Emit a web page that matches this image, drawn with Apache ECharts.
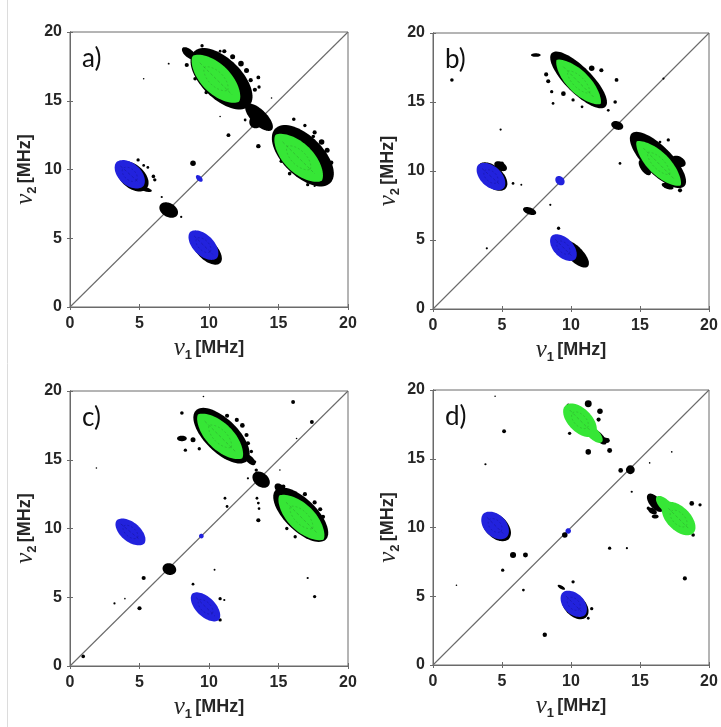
<!DOCTYPE html>
<html>
<head>
<meta charset="utf-8">
<script src="https://cdn.jsdelivr.net/npm/echarts@6/dist/echarts.min.js"></script>
<style>
  html, body { margin: 0; padding: 0; background: #ffffff; }
  #chart { width: 721px; height: 727px; }
</style>
</head>
<body>
<div id="chart"></div>
<script>
// Axis ticks shared by every panel (MHz)
const ticks = [0, 5, 10, 15, 20];
const panelLabels = ['a)', 'b)', 'c)', 'd)'];
const diagonal = [[0, 0], [20, 20]];

// Peak contours: [nu1, nu2, half-length, half-width, tilt in degrees]
// Spots: [nu1, nu2, radius]

// ---- panel a ----
const haloA = [
  [10.9, 16.6, 2.8, 1.45, -45], [8.55, 18.45, 0.6, 0.3, -40],
  [13.6, 13.8, 1.3, 0.55, -45], [13.45, 13.55, 0.6, 0.5, 45],
  [16.75, 11.0, 2.8, 1.45, -45], [18.0, 9.5, 0.5, 0.3, -45],
  [4.5, 9.5, 1.35, 0.85, -42], [5.45, 8.55, 0.45, 0.15, -15],
  [9.85, 4.15, 1.35, 0.7, -45], [7.1, 7.05, 0.72, 0.5, -30]
];
const greenA = [[10.5, 16.6, 2.35, 1.05, -45], [16.45, 10.85, 2.35, 1.05, -45]];
const blueA = [[4.3, 9.65, 1.3, 0.8, -42], [9.6, 4.5, 1.35, 0.75, -45], [9.3, 9.35, 0.3, 0.18, -45]];
const spotsA = [
  [8.85, 10.45, 0.2], [4.9, 10.7, 0.12], [5.3, 10.3, 0.1], [5.6, 10.15, 0.1], [6.0, 9.5, 0.13],
  [6.1, 9.25, 0.12], [6.6, 8.0, 0.08], [8.0, 6.55, 0.08], [11.4, 12.5, 0.14], [13.55, 11.7, 0.16],
  [13.55, 16.7, 0.14], [13.6, 16.0, 0.12], [10.8, 18.6, 0.1], [7.1, 17.7, 0.07], [16.1, 13.65, 0.13],
  [17.5, 12.4, 0.13], [12.6, 13.6, 0.1], [10.8, 13.85, 0.05], [14.5, 15.2, 0.05], [17.6, 8.8, 0.08],
  [5.3, 16.6, 0.05],
  [12.3, 17.7, 0.2], [12.7, 17.2, 0.18], [11.7, 18.2, 0.18], [13.0, 16.5, 0.15], [13.3, 15.8, 0.15],
  [11.1, 18.6, 0.15], [9.5, 19.0, 0.12], [8.4, 17.6, 0.15], [9.0, 16.6, 0.13], [9.8, 15.6, 0.13],
  [18.1, 12.0, 0.2], [18.5, 11.4, 0.18], [17.6, 12.7, 0.15], [18.8, 10.5, 0.15], [16.9, 13.2, 0.12],
  [15.2, 10.6, 0.13], [15.8, 9.7, 0.13], [17.1, 8.9, 0.12], [18.4, 9.2, 0.12]
];

// ---- panel b ----
const haloB = [
  [10.55, 16.6, 2.75, 0.95, -45], [7.45, 18.4, 0.35, 0.13, 0], [13.35, 13.3, 0.45, 0.3, -20],
  [16.3, 10.8, 2.7, 1.0, -45], [15.35, 10.25, 0.65, 0.3, -55], [17.8, 10.7, 0.55, 0.35, -30],
  [17.0, 8.9, 0.45, 0.2, -20], [4.3, 9.6, 1.3, 0.75, -42], [4.9, 10.35, 0.5, 0.3, -30],
  [10.3, 4.0, 1.3, 0.55, -45], [10.8, 3.6, 0.5, 0.25, -30], [7.0, 7.1, 0.5, 0.25, -20]
];
const greenB = [[10.55, 16.45, 2.25, 0.8, -45], [16.35, 10.55, 2.25, 0.8, -45]];
const blueB = [[4.2, 9.6, 1.25, 0.75, -42], [9.45, 4.45, 1.2, 0.7, -45], [9.2, 9.3, 0.38, 0.3, -45]];
const spotsB = [
  [8.2, 17.0, 0.15], [8.35, 16.5, 0.15], [8.6, 15.75, 0.12], [8.7, 14.9, 0.1], [9.45, 15.6, 0.17],
  [10.15, 15.15, 0.12], [10.8, 14.65, 0.1], [11.5, 17.45, 0.2], [12.2, 17.3, 0.15], [13.3, 16.6, 0.14],
  [13.2, 15.0, 0.13], [12.7, 14.4, 0.1], [16.7, 16.7, 0.08], [17.05, 12.25, 0.12], [16.45, 12.1, 0.1],
  [13.55, 10.55, 0.1], [5.0, 10.55, 0.14], [5.8, 9.1, 0.1], [6.4, 9.0, 0.07], [4.9, 13.0, 0.08],
  [3.9, 4.4, 0.08], [1.37, 16.6, 0.13], [8.5, 7.55, 0.08], [9.1, 5.85, 0.12], [17.9, 8.6, 0.15]
];

// ---- panel c ----
const haloC = [
  [10.9, 16.75, 2.6, 1.2, -45], [12.95, 15.0, 0.5, 0.25, -45], [13.75, 13.55, 0.7, 0.5, -40],
  [16.6, 11.0, 2.55, 1.15, -45], [15.1, 12.9, 0.45, 0.3, -45], [8.05, 16.55, 0.35, 0.2, 0],
  [7.15, 7.05, 0.5, 0.42, -20]
];
const greenC = [[10.8, 16.7, 2.25, 0.95, -45], [16.65, 10.8, 2.25, 0.95, -45]];
const blueC = [[4.35, 9.75, 1.3, 0.7, -40], [9.75, 4.3, 1.35, 0.7, -45], [9.45, 9.45, 0.17, 0.17, 0]];
const spotsC = [
  [8.05, 18.4, 0.13], [8.85, 16.45, 0.18], [8.3, 15.7, 0.12], [12.8, 16.2, 0.15], [13.05, 15.6, 0.12],
  [13.3, 14.85, 0.1], [13.4, 14.25, 0.12], [12.8, 13.65, 0.08], [13.45, 12.2, 0.1], [13.55, 11.85, 0.1],
  [13.6, 11.45, 0.1], [13.55, 10.6, 0.15], [11.15, 12.2, 0.1], [11.3, 11.6, 0.1], [15.35, 13.05, 0.15],
  [18.2, 10.85, 0.15], [18.1, 10.25, 0.12], [16.05, 19.2, 0.14], [17.4, 17.75, 0.14], [16.3, 16.55, 0.05],
  [9.6, 19.6, 0.05], [5.3, 6.4, 0.15], [5.0, 4.2, 0.15], [3.2, 4.55, 0.08], [3.95, 4.9, 0.05],
  [8.85, 5.95, 0.1], [10.8, 4.9, 0.12], [11.1, 4.8, 0.08], [10.4, 7.0, 0.07], [17.6, 5.05, 0.12],
  [17.1, 6.4, 0.08], [0.95, 0.7, 0.13], [1.9, 14.4, 0.05], [10.8, 3.35, 0.12], [15.1, 14.25, 0.05],
  [12.0, 17.9, 0.15], [12.4, 17.5, 0.17], [11.3, 18.2, 0.15], [12.7, 16.8, 0.15], [9.3, 15.8, 0.12],
  [17.6, 11.9, 0.15], [18.0, 11.4, 0.15], [16.9, 12.5, 0.15], [15.6, 10.0, 0.12], [16.2, 9.4, 0.12]
];

// ---- panel d ----
const haloD = [
  [12.0, 16.6, 0.75, 0.3, -45], [12.5, 16.35, 0.3, 0.18, -20], [16.1, 11.8, 0.8, 0.4, -50],
  [15.9, 11.2, 0.35, 0.2, -30], [16.1, 10.8, 0.25, 0.15, 0], [4.6, 10.05, 1.25, 0.8, -45],
  [5.2, 9.35, 0.35, 0.2, -30], [10.3, 4.3, 1.15, 0.75, -45], [9.3, 5.65, 0.3, 0.12, -30]
];
const greenD = [
  [10.65, 17.8, 1.5, 0.85, -45], [11.6, 16.85, 0.9, 0.4, -45],
  [17.8, 10.65, 1.5, 0.85, -45], [16.85, 11.6, 0.9, 0.4, -45]
];
const blueD = [[4.5, 10.15, 1.2, 0.8, -45], [10.2, 4.45, 1.15, 0.75, -45], [9.8, 9.75, 0.2, 0.2, 0]];
const spotsD = [
  [11.25, 19.0, 0.25], [12.1, 18.45, 0.2], [12.0, 17.85, 0.15], [9.8, 18.9, 0.12], [9.9, 16.85, 0.12],
  [11.25, 15.5, 0.2], [12.8, 15.6, 0.18], [12.65, 16.35, 0.15], [14.3, 14.2, 0.32], [13.6, 14.15, 0.17],
  [14.4, 12.6, 0.08], [15.7, 14.7, 0.05], [17.3, 15.5, 0.06], [18.75, 11.75, 0.17], [19.35, 11.65, 0.12],
  [18.85, 9.45, 0.13], [18.25, 6.3, 0.15], [15.6, 11.4, 0.12], [12.8, 8.5, 0.12], [14.05, 8.5, 0.08],
  [9.55, 9.45, 0.2], [5.8, 8.0, 0.22], [6.7, 8.0, 0.18], [5.05, 6.9, 0.12], [6.55, 5.45, 0.1],
  [3.8, 14.6, 0.08], [5.15, 17.0, 0.14], [1.7, 5.8, 0.05], [4.5, 19.55, 0.05], [10.15, 6.05, 0.12],
  [11.5, 4.1, 0.12], [11.25, 3.4, 0.1], [8.1, 2.2, 0.16]
];

const panels = [
  { halo: haloA, green: greenA, blue: blueA, spots: spotsA },
  { halo: haloB, green: greenB, blue: blueB, spots: spotsB },
  { halo: haloC, green: greenC, blue: blueC, spots: spotsC },
  { halo: haloD, green: greenD, blue: blueD, spots: spotsD }
];

// plot boxes of the 2x2 layout, and how sharply each panel's green lobes taper
const boxes = [
  { left: 70, top: 32, width: 278, height: 275 },
  { left: 433, top: 33, width: 276, height: 276 },
  { left: 70, top: 391, width: 278, height: 275 },
  { left: 433, top: 390, width: 276, height: 275 }
];
const greenTaper = [1.3, 1.4, 1.35, 1.0];

const FRAME = '#6a6a6a';
const INK = '#262626';
const SANS = 'Liberation Sans, Arial, sans-serif';
const LABEL = { fontFamily: SANS, fontWeight: 'bold', fontSize: 16, color: INK };
const GREEN = '#36e636';
const BLUE = '#2222dd';

// outline of a tilted peak in data space, projected through the axes
function outline(api, v, scale, taper, steps) {
  const a = v[2] * scale, b = v[3] * scale, th = v[4] * Math.PI / 180;
  const c = Math.cos(th), s = Math.sin(th), pts = [];
  for (let i = 0; i < steps; i++) {
    const t = 2 * Math.PI * i / steps, st = Math.sin(t);
    const u = a * Math.cos(t);
    const w = b * Math.sign(st) * Math.pow(Math.abs(st), taper);
    pts.push(api.coord([v[0] + u * c - w * s, v[1] + u * s + w * c]));
  }
  return pts;
}
const vals = api => [api.value(0), api.value(1), api.value(2), api.value(3), api.value(4)];

function peakSeries(i, data, fill, taper, z) {
  return {
    type: 'custom', xAxisIndex: i, yAxisIndex: i, data, z, clip: true, silent: true,
    encode: { x: 0, y: 1 },
    renderItem: (p, api) => ({
      type: 'polygon',
      shape: { points: outline(api, vals(api), 1, taper, 72) },
      style: { fill }
    })
  };
}

// faint inner contour lines drawn on top of the coloured peaks
function innerSeries(i, data, stroke, taper, z) {
  return {
    type: 'custom', xAxisIndex: i, yAxisIndex: i, data, z, clip: true, silent: true,
    encode: { x: 0, y: 1 },
    renderItem: (p, api) => {
      const v = vals(api);
      if (v[2] < 1.0) return null;
      const th = v[4] * Math.PI / 180, L = v[2] * 0.7;
      const p1 = api.coord([v[0] - L * Math.cos(th), v[1] - L * Math.sin(th)]);
      const p2 = api.coord([v[0] + L * Math.cos(th), v[1] + L * Math.sin(th)]);
      return {
        type: 'group',
        children: [
          { type: 'polygon', shape: { points: outline(api, v, 0.5, taper, 48) },
            style: { fill: 'none', stroke, lineWidth: 0.6, lineDash: [2, 2] } },
          { type: 'line', shape: { x1: p1[0], y1: p1[1], x2: p2[0], y2: p2[1] },
            style: { stroke, lineWidth: 0.7, lineDash: [3, 2] } }
        ]
      };
    }
  };
}

function spotSeries(i, data, z) {
  return {
    type: 'custom', xAxisIndex: i, yAxisIndex: i, data, z, clip: true, silent: true,
    encode: { x: 0, y: 1 },
    renderItem: (p, api) => {
      const c = api.coord([api.value(0), api.value(1)]);
      const r = api.size([api.value(2), 0])[0];
      return { type: 'circle', shape: { cx: c[0], cy: c[1], r: Math.max(r, 0.8) }, style: { fill: '#000' } };
    }
  };
}

const nameRich = {
  nu: { fontFamily: 'Liberation Serif, serif', fontStyle: 'italic', fontSize: 25, color: INK, verticalAlign: 'middle', lineHeight: 28 },
  sub: { fontFamily: SANS, fontWeight: 'bold', fontSize: 13, color: INK, verticalAlign: 'bottom', lineHeight: 28 },
  u: { fontFamily: SANS, fontWeight: 'bold', fontSize: 18, color: INK, verticalAlign: 'middle', lineHeight: 28 }
};
const axisName = sub => '{nu|ν}{sub|' + sub + '} {u|[MHz]}';

const grid = [], xAxis = [], yAxis = [], series = [], graphic = [];
boxes.forEach((b, i) => {
  grid.push(Object.assign({ show: true, borderColor: FRAME, borderWidth: 1, backgroundColor: '#fff' }, b));
  const common = {
    gridIndex: i, type: 'value', min: ticks[0], max: ticks[ticks.length - 1], interval: ticks[1] - ticks[0],
    splitLine: { show: false },
    axisLine: { show: true, lineStyle: { color: FRAME, width: 1 } },
    axisTick: { show: true, inside: true, length: 3, lineStyle: { color: FRAME } }
  };
  xAxis.push(Object.assign({}, common, {
    position: 'bottom',
    axisLabel: Object.assign({ margin: 9 }, LABEL),
    name: axisName('1'), nameLocation: 'middle', nameGap: 27,
    nameTextStyle: { rich: nameRich }
  }));
  yAxis.push(Object.assign({}, common, {
    position: 'left',
    axisLabel: Object.assign({ margin: 8 }, LABEL),
    name: axisName('2'), nameLocation: 'middle', nameGap: 31,
    nameTextStyle: { rich: nameRich }
  }));
  // mirrored frame ticks on top and right
  xAxis.push(Object.assign({}, common, { position: 'top', axisLabel: { show: false } }));
  yAxis.push(Object.assign({}, common, { position: 'right', axisLabel: { show: false } }));
});

panels.forEach((pd, i) => {
  const ax = 2 * i;
  series.push({
    type: 'line', xAxisIndex: ax, yAxisIndex: ax, data: diagonal, symbol: 'none', silent: true, z: 1,
    lineStyle: { color: '#6a6a6a', width: 1.1 }
  });
  series.push(peakSeries(ax, pd.halo, '#000', 1, 2));
  series.push(spotSeries(ax, pd.spots, 2));
  series.push(peakSeries(ax, pd.green, GREEN, greenTaper[i], 3));
  series.push(peakSeries(ax, pd.blue, BLUE, 1.1, 3));
  series.push(innerSeries(ax, pd.green, 'rgba(40,100,40,0.4)', greenTaper[i], 4));
  series.push(innerSeries(ax, pd.blue, 'rgba(10,10,90,0.4)', 1.1, 4));
  graphic.push({
    type: 'text', left: boxes[i].left + 12, top: boxes[i].top + 14, silent: true,
    style: { text: panelLabels[i], font: '26px Lato, "Open Sans", sans-serif', fill: '#111' }
  });
});
graphic.push({ type: 'line', silent: true, shape: { x1: 7.5, y1: 0, x2: 7.5, y2: 727 }, style: { stroke: '#dcdcdc', lineWidth: 1 } });

const chart = echarts.init(document.getElementById('chart'), null, { renderer: 'canvas' });
chart.setOption({
  animation: false,
  backgroundColor: '#ffffff',
  grid, xAxis, yAxis, series, graphic
});
</script>
</body>
</html>
